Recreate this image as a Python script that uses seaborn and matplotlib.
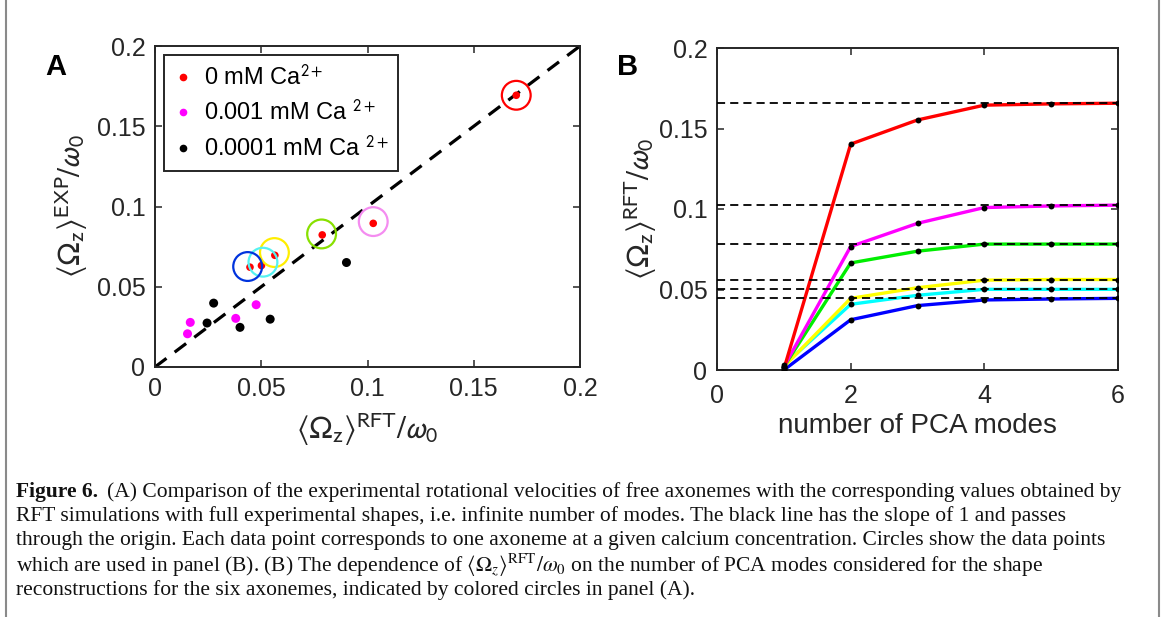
import numpy as np
import pandas as pd
import matplotlib
matplotlib.use("Agg")
import matplotlib.pyplot as plt
import seaborn as sns
from matplotlib.lines import Line2D

# ---------------- Panel A data ----------------
red_x = [0.170, 0.1027, 0.0787, 0.0564, 0.0501, 0.0447]
red_y = [0.1693, 0.0895, 0.0823, 0.0696, 0.0632, 0.0622]
mag_x = [0.0153, 0.0166, 0.0380, 0.0476]
mag_y = [0.0207, 0.0278, 0.0303, 0.0388]
blk_x = [0.0276, 0.0245, 0.0400, 0.0542, 0.0901]
blk_y = [0.0398, 0.0274, 0.0247, 0.0298, 0.0651]
group_labels = ["0 mM Ca$^{\\mathrm{2+}}$", "0.001 mM Ca $^{\\mathrm{2+}}$", "0.0001 mM Ca $^{\\mathrm{2+}}$"]

circle_x = [0.170, 0.1027, 0.0784, 0.0562, 0.0508, 0.0436]
circle_y = [0.1693, 0.0906, 0.0829, 0.0713, 0.0653, 0.0626]
circle_colors = ["#ff0000", "#f48cf0", "#88e000", "#ffee00", "#55f2f2", "#0033dd"]

diag = [0.0, 0.2]
a_ticks = [0, 0.05, 0.1, 0.15, 0.2]
a_ticklabels = ["0", "0.05", "0.1", "0.15", "0.2"]

# ---------------- Panel B data ----------------
modes = [1, 2, 3, 4, 5, 6]
b_red = [0.0005, 0.1403, 0.1553, 0.1645, 0.1653, 0.1657]
b_magenta = [0.0020, 0.0767, 0.0911, 0.1009, 0.1019, 0.1024]
b_green = [0.0020, 0.0665, 0.0738, 0.0782, 0.0782, 0.0782]
b_yellow = [0.0020, 0.0445, 0.0511, 0.0558, 0.0562, 0.0562]
b_cyan = [0.0030, 0.0408, 0.0464, 0.0501, 0.0501, 0.0501]
b_blue = [0.0000, 0.0312, 0.0400, 0.0435, 0.0441, 0.0445]
full_shape = [0.1659, 0.1024, 0.0784, 0.0562, 0.0501, 0.0445]
b_names = ["red", "magenta", "green", "yellow", "cyan", "blue"]
b_colors = ["#ff0000", "#ff00ff", "#00ee00", "#ffff00", "#00ffff", "#0000ff"]
b_xticks = [0, 2, 4, 6]
b_xticklabels = ["0", "2", "4", "6"]

# ---------------- style ----------------
sns.set_theme(style="white")
plt.rcParams['font.family'] = ['Liberation Sans', 'DejaVu Sans']
plt.rcParams['mathtext.fontset'] = 'stixsans'
ink = "#262626"

W, H = 1163, 617
fig = plt.figure(figsize=(W / 100, H / 100), dpi=100)
fig.patch.set_facecolor("white")
axA = fig.add_axes([155 / W, 1 - 367 / H, 425 / W, 321 / H])
axB = fig.add_axes([717 / W, 1 - 370 / H, 401 / W, 322 / H])

# ---------------- Panel A ----------------
dfA = pd.DataFrame({
    "x": red_x + mag_x + blk_x,
    "y": red_y + mag_y + blk_y,
    "group": [group_labels[0]] * len(red_x) + [group_labels[1]] * len(mag_x) + [group_labels[2]] * len(blk_x),
})
palA = {group_labels[0]: "#ff0000", group_labels[1]: "#ff00ff", group_labels[2]: "#000000"}
sizesA = {group_labels[0]: 30, group_labels[1]: 42, group_labels[2]: 42}

axA.plot(diag, diag, color="black", lw=2.3, ls=(0, (4.5, 3.2)), zorder=2)
sns.scatterplot(data=dfA, x="x", y="y", hue="group", palette=palA, size="group",
                sizes=sizesA, linewidth=0, legend=False, ax=axA, zorder=3)
axA.scatter(circle_x, circle_y, s=430, facecolors="none", edgecolors=circle_colors,
            linewidths=1.6, zorder=4)

axA.set_xlim(0, 0.2)
axA.set_ylim(0, 0.2)
axA.set_xticks(a_ticks)
axA.set_xticklabels(a_ticklabels)
axA.set_yticks(a_ticks)
axA.set_yticklabels(a_ticklabels)

lab_kw = dict(fontsize=23, color=ink)
xlA = axA.set_xlabel(r"$\langle\Omega_{\mathrm{z}}\rangle^{\mathrm{RFT}}\mathrm{/}\omega_{\mathrm{0}}$", labelpad=7, **lab_kw)
ylA = axA.set_ylabel(r"$\langle\Omega_{\mathrm{z}}\rangle^{\mathrm{EXP}}\mathrm{/}\omega_{\mathrm{0}}$", labelpad=5, **lab_kw)

handles = [Line2D([0], [0], marker="o", ls="none", markersize=5.5, markerfacecolor=c,
                  markeredgewidth=0) for c in ["#ff0000", "#ff00ff", "#000000"]]
leg = axA.legend(handles, group_labels, loc="upper left", bbox_to_anchor=(0.021, 0.972),
                 fontsize=17, frameon=True, fancybox=False, framealpha=1,
                 edgecolor=ink, handlelength=0.8, handletextpad=0.5,
                 labelspacing=0.42, borderpad=0.4, borderaxespad=0)
leg.get_frame().set_linewidth(1.4)
for t in leg.get_texts():
    t.set_color("black")

# ---------------- Panel B ----------------
b_series = [b_red, b_magenta, b_green, b_yellow, b_cyan, b_blue]
dfB = pd.DataFrame({
    "modes": modes * len(b_series),
    "value": sum(b_series, []),
    "axoneme": sum([[n] * len(modes) for n in b_names], []),
})
order = ["blue", "cyan", "yellow", "green", "magenta", "red"]
palB = dict(zip(b_names, b_colors))
sns.lineplot(data=dfB, x="modes", y="value", hue="axoneme", hue_order=order,
             palette=palB, linewidth=2.4, legend=False, ax=axB, zorder=2)
axB.hlines(full_shape, 0, 6, colors="black", linestyles=(0, (4.5, 2.8)), lw=1.3, zorder=3)
sns.scatterplot(data=dfB, x="modes", y="value", color="black", s=18, linewidth=0,
                legend=False, ax=axB, zorder=4)

axB.set_xlim(0, 6)
axB.set_ylim(0, 0.2)
axB.set_xticks(b_xticks)
axB.set_xticklabels(b_xticklabels)
axB.set_yticks(a_ticks)
axB.set_yticklabels(a_ticklabels)
axB.set_xlabel("number of PCA modes", labelpad=4, fontsize=20, color=ink)
ylB = axB.set_ylabel(r"$\langle\Omega_{\mathrm{z}}\rangle^{\mathrm{RFT}}\mathrm{/}\omega_{\mathrm{0}}$", labelpad=0, **lab_kw)

for ax in (axA, axB):
    for sp in ax.spines.values():
        sp.set_visible(True)
        sp.set_color(ink)
        sp.set_linewidth(1.4)
    ax.tick_params(direction="in", top=True, right=True, bottom=True, left=True,
                   length=5, width=1.1, colors=ink, labelsize=18, pad=7)
    for lab in ax.get_xticklabels() + ax.get_yticklabels():
        lab.set_color(ink)
    ax.set_facecolor("white")
    ax.grid(False)

axB.tick_params(axis="x", pad=10)

# panel letters
fig.text(56 / W, 1 - 67 / H, "A", fontsize=21, fontweight="bold", ha="center", va="center", color="black")
fig.text(628 / W, 1 - 67 / H, "B", fontsize=21, fontweight="bold", ha="center", va="center", color="black")

# ---------------- caption ----------------
cap_lines = [
    "(A) Comparison of the experimental rotational velocities of free axonemes with the corresponding values obtained by",
    "RFT simulations with full experimental shapes, i.e. infinite number of modes. The black line has the slope of 1 and passes",
    "through the origin. Each data point corresponds to one axoneme at a given calcium concentration. Circles show the data points",
    r"which are used in panel (B). (B) The dependence of $\langle\Omega_z\rangle^{\mathrm{RFT}}/\omega_0$ on the number of PCA modes considered for the shape",
    "reconstructions for the six axonemes, indicated by colored circles in panel (A).",
]
cap_y = [492, 516, 541, 565, 590]
cap_font = ["Liberation Serif", "DejaVu Serif"]
fig.canvas.draw()
renderer = fig.canvas.get_renderer()

base_fs = 14
x0 = 16
bold = fig.text(x0 / W, 1 - cap_y[0] / H, "Figure 6.", fontsize=base_fs, fontweight="bold",
                family=cap_font, va="center", ha="left", color="#111111")
first = fig.text(0, 1 - cap_y[0] / H, cap_lines[0], fontsize=base_fs, family=cap_font,
                 va="center", ha="left", color="#111111")
bw = bold.get_window_extent(renderer).width
fw = first.get_window_extent(renderer).width
gap = 0.6 * base_fs
total = bw + gap + fw
scale = (1125 - x0) / total
fs = base_fs * scale
bold.set_fontsize(fs)
first.set_fontsize(fs)
bw = bold.get_window_extent(renderer).width
first.set_x((x0 + bw + 0.6 * fs) / W)
for line, yy in zip(cap_lines[1:], cap_y[1:]):
    fig.text(x0 / W, 1 - yy / H, line, fontsize=fs, family=cap_font, va="center",
             ha="left", color="#111111", math_fontfamily="stix")

# frame lines on left and right
fig.add_artist(Line2D([6 / W, 6 / W], [0, 1], color="#8a8a8a", lw=1.5))
fig.add_artist(Line2D([1159 / W, 1159 / W], [0, 1], color="#8a8a8a", lw=1.5))

fig.savefig("out.png", dpi=100, facecolor="white")
